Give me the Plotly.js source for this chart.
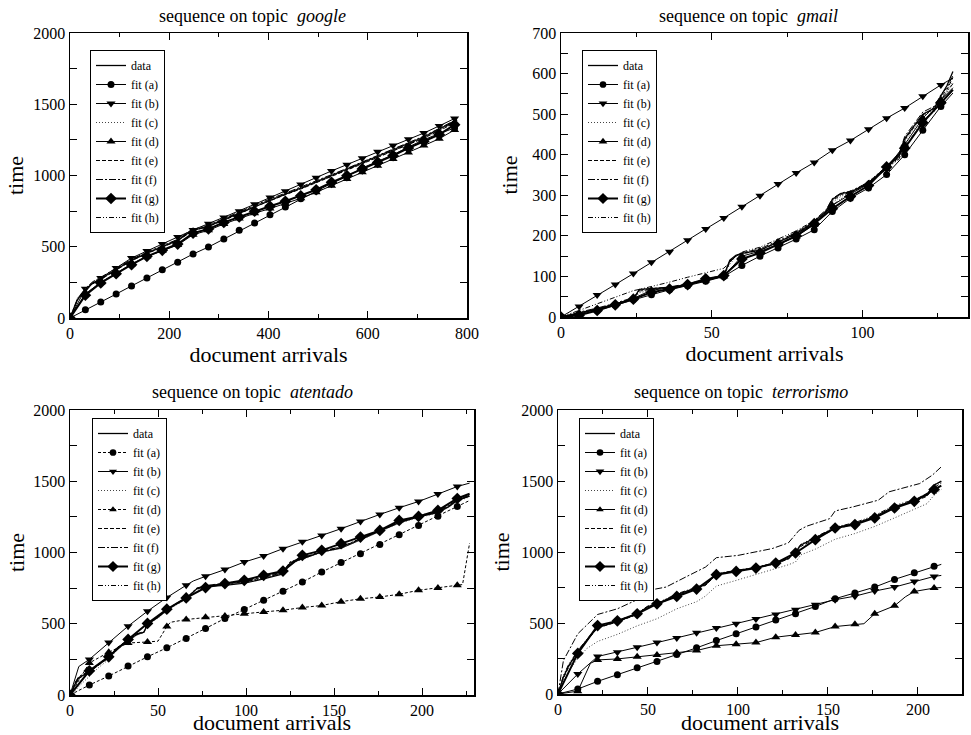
<!DOCTYPE html>
<html><head><meta charset="utf-8">
<script src="https://cdn.plot.ly/plotly-3.0.1.min.js"></script>
<style>html,body{margin:0;padding:0;background:#fff}#chart{width:971px;height:735px}</style>
</head><body><div id="chart"></div>
<script>
// ---------- panel titles / names ----------
const topics = ['google', 'gmail', 'atentado', 'terrorismo'];
const seriesNames = ['data', 'fit (a)', 'fit (b)', 'fit (c)', 'fit (d)', 'fit (e)', 'fit (f)', 'fit (g)', 'fit (h)'];

// ---------- google ----------
const googleMarkX = [0,31,62,93,124,155,186,217,248,279,310,341,372,403,434,465,496,527,558,589,620,651,682,713,744,775];
const googleLineX = [0,15,31,46,62,93,124,155,186,217,240,248,279,310,341,372,403,434,465,496,527,558,589,620,651,682,713,744,780];
const googleData = [0,130,200,245,275,340,405,455,500,545,600,615,645,690,735,785,830,870,912,955,1000,1045,1090,1135,1180,1225,1270,1325,1390];
const googleA = [0,58,112,168,225,281,339,391,449,498,554,615,667,725,779,837,891,945,992,1053,1099,1146,1200,1251,1294,1333];
const googleB = [0,205,281,351,421,470,520,568,618,662,706,750,798,845,890,937,985,1032,1076,1121,1167,1210,1255,1298,1348,1400];
const googleC = [0,140,205,252,283,345,410,460,505,550,605,620,650,695,740,790,833,873,915,958,1003,1048,1093,1138,1183,1228,1273,1328,1392];
const googleD = [0,170,250,315,378,432,472,512,585,615,660,698,735,768,802,840,882,928,975,1022,1068,1115,1162,1210,1258,1320];
const googleE = [0,125,195,240,270,338,402,452,498,542,595,612,642,686,730,780,825,865,905,948,992,1037,1082,1127,1172,1217,1262,1315,1375];
const googleF = [0,135,208,255,286,348,412,462,508,552,608,622,652,698,744,793,836,876,918,962,1006,1050,1095,1140,1186,1231,1276,1330,1396];
const googleG = [0,160,246,311,374,433,475,519,596,625,671,709,749,784,819,858,900,952,999,1046,1092,1139,1193,1240,1287,1357];
const googleH = [0,128,200,248,278,342,407,457,502,547,602,617,647,692,738,788,830,868,908,950,995,1040,1085,1130,1175,1220,1265,1320,1382];

// ---------- gmail ----------
const gmailMarkGrid = [0,6,12,18,24,30,36,42,48,54,60,66,72,78,84,90,96,102,108,114,120,126];
const gmailMarkX = [0,6,12,18,24,30,36,42,48,54,60,66,72,78,84,90,96,102,108,114,120,126,130];
const gmailLineX = [0,6,12,18,24,26,30,36,42,48,54,56,58,60,66,72,78,84,88,90,93,96,102,108,112,114,117,120,124,126,128,130];
const gmailData = [0,10,20,32,45,68,70,73,80,90,102,140,152,157,165,185,205,235,262,290,305,308,330,370,395,440,470,500,515,545,570,605];
const gmailA = [0,6,16,29,43,55,67,77,88,100,127,150,170,192,215,260,293,318,351,400,460,519,552];
const gmailB = [0,26,54,80,107,135,161,189,217,244,272,299,328,355,381,411,435,463,490,515,544,572,589];
const gmailC = [0,8,18,30,42,60,66,72,80,90,102,130,148,155,165,183,203,232,258,282,298,305,328,366,390,432,462,495,512,538,555,580];
const gmailD = [0,8,19,32,46,66,72,80,90,100,150,162,178,198,228,275,303,328,365,425,490,535,565];
const gmailE = [0,9,19,31,44,64,68,72,80,90,101,135,150,156,164,184,204,233,260,286,302,306,329,368,392,436,466,498,514,542,560,590];
const gmailF = [0,12,22,34,48,66,70,74,82,92,104,138,150,158,168,188,208,238,265,292,306,310,332,372,398,445,475,505,520,548,565,595];
const gmailG = [0,4,16,30,44,61,69,80,94,102,143,158,180,200,230,267,297,324,370,416,479,528,560];
const gmailH = [0,16,33,49,65,68,75,86,98,109,120,135,150,160,172,192,212,238,258,275,292,305,335,368,388,420,450,485,508,535,555,575];

// ---------- atentado ----------
const atentadoMarkGrid = [0,11,22,33,44,55,66,77,88,99,110,121,132,143,154,165,176,187,198,209,220];
const atentadoMarkX = [0,11,22,33,44,55,66,77,88,99,110,121,132,143,154,165,176,187,198,209,220,227];
const atentadoBX = [0,5,11,22,33,44,55,66,70,77,88,99,110,121,132,143,154,165,176,187,198,209,220,227];
const atentadoDX = [0,11,22,33,44,50,55,57,66,77,88,99,110,121,132,143,154,165,176,187,198,209,220,223,227];
const atentadoLineX = [0,3,5,11,16,22,27,33,38,42,44,50,55,60,66,72,77,88,99,110,121,125,132,143,154,165,176,187,198,209,215,220,227];
const atentadoData = [0,80,120,165,210,265,330,385,425,440,495,545,595,635,675,745,760,770,785,815,850,925,955,1005,1030,1090,1150,1210,1250,1280,1320,1365,1395];
const atentadoA = [0,70,133,203,268,331,397,467,537,600,665,728,793,863,929,992,1057,1125,1190,1255,1323,1365];
const atentadoB = [0,200,250,369,483,588,684,770,800,833,880,933,975,1027,1076,1120,1167,1218,1267,1314,1358,1410,1463,1487];
const atentadoC = [0,30,60,130,190,250,320,380,420,440,490,540,590,630,670,740,760,775,790,820,855,920,950,1000,1030,1088,1148,1205,1245,1278,1318,1360,1390];
const atentadoD = [0,225,300,365,372,378,480,510,530,545,555,570,583,595,614,628,655,675,688,707,735,751,770,775,1066];
const atentadoE = [0,70,115,160,205,262,328,384,425,440,498,548,598,638,678,748,765,780,795,825,858,930,958,1008,1035,1095,1155,1213,1255,1285,1325,1368,1398];
const atentadoF = [0,90,130,170,215,272,335,390,430,445,500,550,600,640,680,750,768,785,800,830,865,935,962,1010,1040,1098,1158,1218,1258,1290,1330,1372,1402];
const atentadoG = [0,170,268,390,502,602,681,754,782,805,840,870,980,1015,1062,1108,1155,1225,1253,1295,1379,1412];
const atentadoH = [0,85,125,168,212,268,332,388,428,442,497,547,597,637,677,747,763,778,792,822,856,928,958,1005,1038,1094,1153,1212,1253,1284,1324,1366,1396];

// ---------- terrorismo ----------
const terrorMarkGrid = [0,11,22,33,44,55,66,77,88,99,110,121,132,143,154,165,176,187,198,209];
const terrorMarkX = [0,11,22,33,44,55,66,77,88,99,110,121,132,143,154,165,176,187,198,209,213];
const terrorDX = [0,11,18,22,33,44,55,66,77,88,99,110,121,132,143,154,165,170,176,187,193,198,209,213];
const terrorLineX = [0,3,6,11,16,22,33,44,50,55,66,77,82,88,99,110,121,128,132,135,143,154,165,176,187,198,205,209,213];
const terrorFX = [0,3,11,22,33,45,50,60,71,82,88,100,119,128,134,138,151,154,164,178,184,201,208,213];
const terrorData = [0,120,200,300,380,470,510,565,615,635,700,750,770,845,865,890,920,955,1000,1050,1100,1170,1200,1250,1320,1360,1400,1470,1500];
const terrorA = [0,35,89,136,184,228,278,325,376,424,471,522,565,616,671,711,753,807,854,899,913];
const terrorB = [0,141,264,294,329,362,395,431,464,494,529,560,593,628,664,689,725,753,793,828,835];
const terrorC = [0,80,160,250,320,370,420,480,510,530,600,650,690,760,800,840,880,910,930,980,1020,1090,1130,1180,1240,1300,1340,1400,1440];
const terrorD = [0,20,216,240,247,263,275,291,306,340,350,362,400,416,433,475,492,495,565,621,684,722,746,750];
const terrorE = [0,110,190,290,375,465,508,560,608,630,692,742,765,840,862,888,918,950,995,1040,1092,1163,1195,1245,1315,1355,1392,1455,1485];
const terrorF = [0,235,424,560,600,670,729,753,824,894,960,976,1024,1064,1153,1181,1235,1289,1318,1365,1424,1482,1541,1600];
const terrorG = [0,286,482,515,565,635,687,739,840,863,887,922,993,1087,1169,1193,1240,1310,1357,1440,1468];
const terrorH = [0,130,210,305,385,475,515,570,620,640,705,755,775,848,868,893,925,960,1005,1055,1105,1175,1207,1258,1328,1368,1410,1475,1495];

// ---------- build traces ----------
const FONT = 'Liberation Serif, Times New Roman, serif';
const BLACK = '#000';

function sizes(xs, grid, s) { return xs.map(v => grid.indexOf(v) >= 0 ? s : 0); }

const styles = {
  'data':    {mode: 'lines', line: {color: BLACK, width: 1.3}},
  'fit (a)': {mode: 'lines+markers', line: {color: BLACK, width: 1}, symbol: 'circle', ms: 7},
  'fit (b)': {mode: 'lines+markers', line: {color: BLACK, width: 1}, symbol: 'triangle-down', ms: 8},
  'fit (c)': {mode: 'lines', line: {color: '#444', width: 1, dash: '1px,2px'}},
  'fit (d)': {mode: 'lines+markers', line: {color: BLACK, width: 1}, symbol: 'triangle-up', ms: 8},
  'fit (e)': {mode: 'lines', line: {color: BLACK, width: 1, dash: '4px,2px'}},
  'fit (f)': {mode: 'lines', line: {color: BLACK, width: 1, dash: '7px,2px,2px,2px'}},
  'fit (g)': {mode: 'lines+markers', line: {color: BLACK, width: 2}, symbol: 'diamond', ms: 9},
  'fit (h)': {mode: 'lines', line: {color: BLACK, width: 1, dash: '5px,2px,1px,2px,1px,2px'}}
};

const panels = [
  {grid: googleMarkX, series: [
    [googleLineX, googleData], [googleMarkX, googleA], [googleMarkX, googleB], [googleLineX, googleC],
    [googleMarkX, googleD], [googleLineX, googleE], [googleLineX, googleF], [googleMarkX, googleG], [googleLineX, googleH]], dashed: []},
  {grid: gmailMarkGrid, series: [
    [gmailLineX, gmailData], [gmailMarkX, gmailA], [gmailMarkX, gmailB], [gmailLineX, gmailC],
    [gmailMarkX, gmailD], [gmailLineX, gmailE], [gmailLineX, gmailF], [gmailMarkX, gmailG], [gmailLineX, gmailH]], dashed: []},
  {grid: atentadoMarkGrid, series: [
    [atentadoLineX, atentadoData], [atentadoMarkX, atentadoA], [atentadoBX, atentadoB], [atentadoLineX, atentadoC],
    [atentadoDX, atentadoD], [atentadoLineX, atentadoE], [atentadoLineX, atentadoF], [atentadoMarkX, atentadoG], [atentadoLineX, atentadoH]], dashed: ['fit (a)', 'fit (d)']},
  {grid: terrorMarkGrid, series: [
    [terrorLineX, terrorData], [terrorMarkX, terrorA], [terrorMarkX, terrorB], [terrorLineX, terrorC],
    [terrorDX, terrorD], [terrorLineX, terrorE], [terrorFX, terrorF], [terrorMarkX, terrorG], [terrorLineX, terrorH]], dashed: []}
];

const traces = [];
panels.forEach((p, pi) => {
  const ax = pi === 0 ? '' : String(pi + 1);
  p.series.forEach((s, si) => {
    const name = seriesNames[si];
    const st = styles[name];
    const line = Object.assign({}, st.line);
    if (p.dashed.indexOf(name) >= 0) line.dash = '3px,2px';
    const tr = {
      type: 'scatter', x: s[0], y: s[1], name: name, mode: st.mode, line: line,
      xaxis: 'x' + ax, yaxis: 'y' + ax, legend: 'legend' + ax, hoverinfo: 'x+y+name'
    };
    if (st.symbol) {
      tr.marker = {symbol: st.symbol, color: BLACK, opacity: 1, line: {width: 0},
        size: sizes(s[0], p.grid, st.ms)};
    }
    traces.push(tr);
  });
});

// ---------- layout ----------
const W = 971, H = 735;
function xd(a, b) { return [a / W, b / W]; }
function yd(top, bottom) { return [1 - bottom / H, 1 - top / H]; }

function xaxis(domain, range, dtick, minor, anchor, standoff) {
  return {domain: domain, range: range, dtick: dtick, tick0: 0, anchor: anchor,
    ticks: 'inside', ticklen: 7, tickwidth: 1, tickcolor: BLACK,
    minor: {ticks: 'inside', ticklen: 4, dtick: minor, tickcolor: BLACK, tickwidth: 1},
    showline: true, linecolor: BLACK, linewidth: 1.5, mirror: 'ticks',
    showgrid: false, zeroline: false,
    tickfont: {family: FONT, size: 16, color: BLACK},
    title: {text: 'document arrivals', font: {family: FONT, size: 22, color: BLACK}, standoff: standoff}};
}
function yaxis(domain, range, dtick, minor, anchor, standoff) {
  return {domain: domain, range: range, dtick: dtick, tick0: 0, anchor: anchor,
    ticks: 'inside', ticklen: 7, tickwidth: 1, tickcolor: BLACK,
    minor: {ticks: 'inside', ticklen: 7, dtick: minor, tickcolor: BLACK, tickwidth: 1},
    showline: true, linecolor: BLACK, linewidth: 1.5, mirror: 'ticks',
    showgrid: false, zeroline: false,
    tickfont: {family: FONT, size: 16, color: BLACK},
    title: {text: 'time', font: {family: FONT, size: 22, color: BLACK}, standoff: standoff}};
}
function legendAt(left, top) {
  return {x: left / W, y: 1 - top / H, xanchor: 'left', yanchor: 'top',
    bordercolor: BLACK, borderwidth: 1, bgcolor: '#fff',
    font: {family: FONT, size: 12, color: BLACK}, itemwidth: 30, tracegroupgap: 0};
}

const titleAnno = (text, cx, cy) => ({text: text, x: cx / W, y: 1 - cy / H, xref: 'paper', yref: 'paper',
  showarrow: false, xanchor: 'center', yanchor: 'middle', font: {family: FONT, size: 18, color: BLACK}});

const layout = {
  width: W, height: H, margin: {l: 0, r: 0, t: 0, b: 0},
  paper_bgcolor: '#fff', plot_bgcolor: '#fff',
  font: {family: FONT, color: BLACK},
  showlegend: true,
  xaxis:  xaxis(xd(70, 467), [0, 800], 200, 100, 'y', 4),
  yaxis:  yaxis(yd(33, 318), [0, 2000], 500, 250, 'x', 3),
  xaxis2: xaxis(xd(561, 968), [0, 135], 50, 25, 'y2', 4),
  yaxis2: yaxis(yd(33, 317), [0, 700], 100, 50, 'x2', 8),
  xaxis3: xaxis(xd(70, 474), [0, 229.5], 50, 25, 'y3', 7),
  yaxis3: yaxis(yd(410, 695), [0, 2000], 500, 250, 'x3', 2),
  xaxis4: xaxis(xd(558, 962), [0, 224.5], 50, 25, 'y4', 7),
  yaxis4: yaxis(yd(410, 694), [0, 2000], 500, 250, 'x4', 5),
  legend:  legendAt(90, 50),
  legend2: legendAt(582, 50),
  legend3: legendAt(92, 418),
  legend4: legendAt(579, 418),
  annotations: [
    titleAnno('sequence on topic  <i>' + topics[0] + '</i>', 253, 16),
    titleAnno('sequence on topic  <i>' + topics[1] + '</i>', 748, 16),
    titleAnno('sequence on topic  <i>' + topics[2] + '</i>', 252, 392),
    titleAnno('sequence on topic  <i>' + topics[3] + '</i>', 741, 392)
  ]
};

Plotly.newPlot('chart', traces, layout, {displayModeBar: false, staticPlot: true});
</script></body></html>
